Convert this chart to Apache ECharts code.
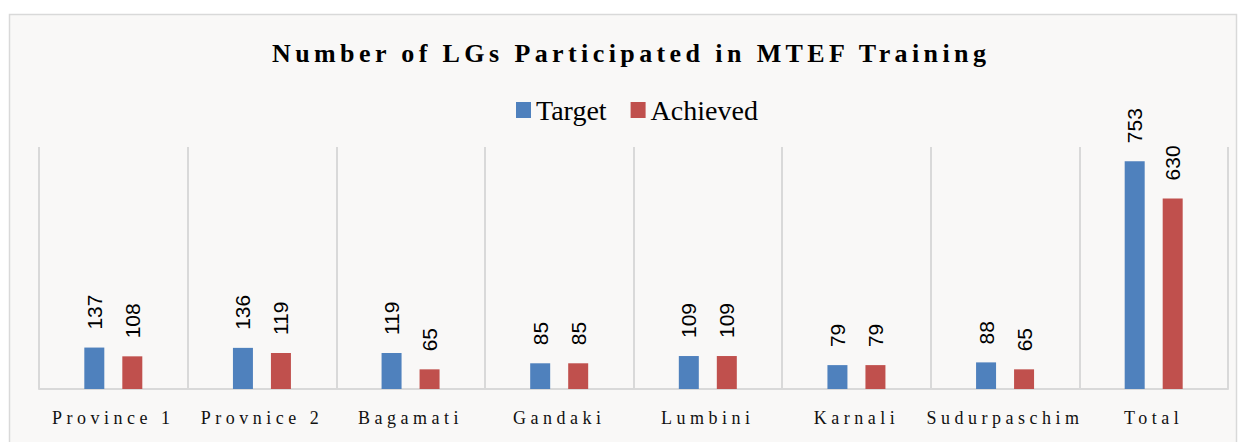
<!DOCTYPE html>
<html>
<head>
<meta charset="utf-8">
<script src="https://cdn.jsdelivr.net/npm/echarts@6/dist/echarts.min.js"></script>
<style>
  html, body { margin: 0; padding: 0; background: #fff; }
  #chart { width: 1244px; height: 442px; }
  /* spaced-out lettering like the original Word chart */
  #chart text[style*="bold"] { letter-spacing: 4.4px; }
  #chart text[style*="18px"] { letter-spacing: 4.5px; }
</style>
</head>
<body>
<div id="chart"></div>
<script>
const categories = ['Province 1', 'Provnice 2', 'Bagamati', 'Gandaki', 'Lumbini', 'Karnali', 'Sudurpaschim', 'Total'];
const target = [137, 136, 119, 85, 109, 79, 88, 753];
const achieved = [108, 119, 65, 85, 109, 79, 65, 630];

const serif = '"Liberation Serif", serif';
const sans = '"Liberation Sans", sans-serif';

const chart = echarts.init(document.getElementById('chart'), null, { renderer: 'svg' });

const labelOpt = {
  show: true,
  position: 'top',
  rotate: 90,
  align: 'left',
  verticalAlign: 'middle',
  distance: 18,
  fontFamily: sans,
  fontSize: 21,
  color: '#000'
};

const option = {
  backgroundColor: '#fff',
  animation: false,
  graphic: [{
    type: 'rect',
    z: -10,
    shape: { x: 9.5, y: 14.5, width: 1227, height: 460 },
    style: { fill: '#F9F8F7', stroke: '#D9D9D9', lineWidth: 1.5 }
  }],
  title: {
    text: 'Number of LGs Participated in MTEF Training',
    left: 267,
    top: 35,
    textStyle: { fontFamily: serif, fontWeight: 'bold', fontSize: 26, color: '#000' }
  },
  legend: {
    left: 511,
    top: 91,
    icon: 'rect',
    itemWidth: 15,
    itemHeight: 16,
    itemGap: 24,
    textStyle: { fontFamily: serif, fontSize: 28, color: '#000' },
    data: ['Target', 'Achieved']
  },
  grid: { left: 39, right: 16, top: 147, bottom: 53 },
  xAxis: {
    type: 'category',
    data: categories,
    axisLine: { lineStyle: { color: '#D9D9D9', width: 2 } },
    axisTick: { show: false },
    splitLine: { show: true, lineStyle: { color: '#D9D9D9', width: 2 } },
    axisLabel: { fontFamily: serif, fontSize: 18, color: '#111', margin: 20, interval: 0 }
  },
  yAxis: {
    type: 'value',
    min: 0,
    max: 800,
    show: false
  },
  series: [
    {
      name: 'Target',
      type: 'bar',
      data: target,
      barWidth: 20,
      barGap: '90%',
      itemStyle: { color: '#4F81BD' },
      label: labelOpt
    },
    {
      name: 'Achieved',
      type: 'bar',
      data: achieved,
      barWidth: 20,
      itemStyle: { color: '#C0504D' },
      label: labelOpt
    }
  ]
};

chart.setOption(option);
window.addEventListener('resize', () => chart.resize());
</script>
</body>
</html>
